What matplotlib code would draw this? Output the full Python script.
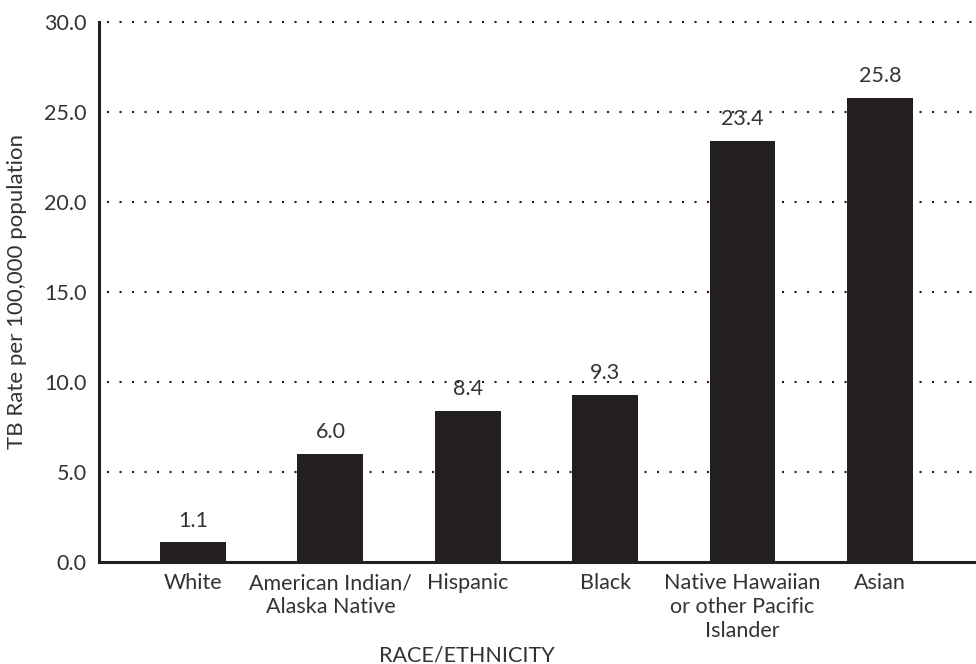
from matplotlib import pyplot as plt
import numpy as np

# TB rate by race/ethnicity
categories = ['White', 'American Indian/\nAlaska Native', 'Hispanic', 'Black',
              'Native Hawaiian\nor other Pacific\nIslander', 'Asian']
rates = [1.1, 6.0, 8.4, 9.3, 23.4, 25.8]
rate_labels = ['1.1', '6.0', '8.4', '9.3', '23.4', '25.8']
y_ticks = [0, 5, 10, 15, 20, 25, 30]

dark = '#231f20'
txt = '#333333'
plt.rcParams['font.family'] = ['Lato', 'DejaVu Sans']

fig = plt.figure(figsize=(9.76, 6.64), dpi=100)
ax = fig.add_axes([0.1014, 0.1536, 0.8986, 0.8133])

x = np.arange(len(categories))
ax.bar(x, rates, width=0.48, color=dark, zorder=2)

for xi, v, lab in zip(x, rates, rate_labels):
    ax.text(xi, v + 0.65, lab, ha='center', va='bottom', fontsize=15.5, color=txt, zorder=1)

for t in y_ticks[1:]:
    ax.plot([-0.63, 5.70], [t, t], color=dark, linewidth=1.5,
            linestyle=(0, (1, 5)), zorder=3, clip_on=False)

ax.set_xlim(-0.685, 5.70)
ax.set_ylim(0, 30)
ax.set_yticks(y_ticks)
ax.set_yticklabels(['%.1f' % t for t in y_ticks], fontsize=15.5, color=txt)
ax.set_xticks(x)
ax.set_xticklabels(categories, fontsize=15.5, color=txt, linespacing=1.25)
ax.tick_params(axis='x', length=0, pad=8)
ax.tick_params(axis='y', length=0, pad=9)

for s in ['top', 'right']:
    ax.spines[s].set_visible(False)
for s in ['left', 'bottom']:
    ax.spines[s].set_linewidth(2.2)
    ax.spines[s].set_color(dark)

ax.set_ylabel('TB Rate per 100,000 population', fontsize=16, color=txt, labelpad=12)
fig.text(467 / 976, 1 - 655 / 664, 'RACE/ETHNICITY', ha='center', va='center',
         fontsize=15.5, color=txt)

plt.savefig('out.png', dpi=100)
plt.close()
